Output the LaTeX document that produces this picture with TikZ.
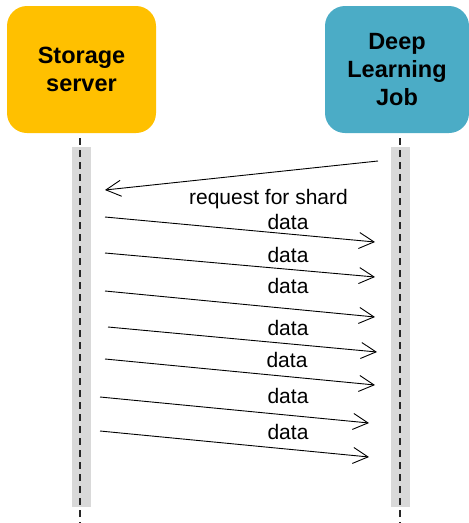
\documentclass[tikz,border=0pt]{standalone}
\usepackage{fontspec}
\setmainfont{Liberation Sans}
\usepackage{tikz}
\usetikzlibrary{arrows.meta}
\definecolor{storage}{HTML}{FFC000}
\definecolor{deepjob}{HTML}{4BACC6}
\definecolor{lanegray}{HTML}{D9D9D9}
\begin{document}
\begin{tikzpicture}[x=1pt,y=-1pt,
		actor/.style={rounded corners=20pt,inner sep=0pt,align=center,minimum height=127pt,font=\fontsize{23.5}{28}\selectfont\bfseries},
		lane/.style={fill=lanegray,draw=none,inner sep=0pt,minimum width=19pt,minimum height=360pt},
		life/.style={dash pattern=on 7pt off 5pt,line width=1.6pt,draw=black!85},
		msg/.style={-{Straight Barb[length=15pt,width=16pt]},line width=0.9pt},
		lbl/.style={inner sep=0pt,anchor=base,font=\fontsize{21}{25}\selectfont},
		]
		\useasboundingbox (0,0) rectangle (469,523);

		\node[actor,fill=storage,minimum width=149pt](srv) at (81.5,69.5) {Storage\\server};
		\node[actor,fill=deepjob,minimum width=144pt](job) at (397,69.5) {Deep\\Learning\\Job};

		\node[lane](srvlane) at (81.5,327) {};
		\node[lane](joblane) at (400,327) {};

		\coordinate (srvtop) at (80,138);
		\coordinate (srvbot) at (80,523);
		\coordinate (jobtop) at (400,138);
		\coordinate (jobbot) at (400,523);
		\draw[life] (srvtop) -- (srvbot);
		\draw[life] (jobtop) -- (jobbot);

		\coordinate (q1) at (378,161);  \coordinate (q2) at (105,190);
		\coordinate (d1a) at (105,217); \coordinate (d1b) at (375,242);
		\coordinate (d2a) at (105,253); \coordinate (d2b) at (375,277);
		\coordinate (d3a) at (105,291); \coordinate (d3b) at (375,317);
		\coordinate (d4a) at (108,327); \coordinate (d4b) at (377,352);
		\coordinate (d5a) at (105,359); \coordinate (d5b) at (375,385);
		\coordinate (d6a) at (100,397); \coordinate (d6b) at (369,423);
		\coordinate (d7a) at (100,431); \coordinate (d7b) at (369,457);

		\draw[msg] (q1) -- (q2);
		\draw[msg] (d1a) -- (d1b);
		\draw[msg] (d2a) -- (d2b);
		\draw[msg] (d3a) -- (d3b);
		\draw[msg] (d4a) -- (d4b);
		\draw[msg] (d5a) -- (d5b);
		\draw[msg] (d6a) -- (d6b);
		\draw[msg] (d7a) -- (d7b);

		\node[lbl](req) at (268.5,204) {request for shard};
		\node[lbl](l1) at (288,229) {data};
		\node[lbl](l2) at (288,262) {data};
		\node[lbl](l3) at (288,293) {data};
		\node[lbl](l4) at (288,335) {data};
		\node[lbl](l5) at (287,367) {data};
		\node[lbl](l6) at (288,403) {data};
		\node[lbl](l7) at (288,439) {data};
\end{tikzpicture}
\end{document}
